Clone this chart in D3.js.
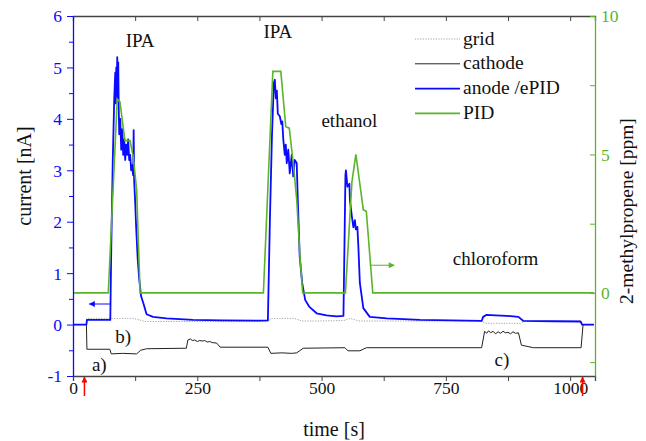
<!DOCTYPE html>
<html>
<head>
<meta charset="utf-8">
<script src="https://cdn.jsdelivr.net/npm/d3@7"></script>
<style>
  body { margin: 0; background: #fff; }
  text { font-family: "Liberation Serif", "Times New Roman", serif; }
</style>
</head>
<body>
<svg></svg>
<script>
const width = 646;
const height = 441;

// anode / ePID current [nA] over time [s]
const anode = [
  [0, 0], [27, 0], [28, 0.09], [75, 0.09], [77, 1.5], [80, 3.2], [83, 4.4], [85, 4.9],
  [86, 4.3], [87, 5.0], [88, 4.6], [89, 5.2], [90, 4.4], [91, 5.1], [92, 4.2], [93, 3.7],
  [95, 4.0], [97, 3.4], [99, 3.8], [101, 3.3], [103, 3.6], [105, 3.2], [107, 3.5], [109, 3.3],
  [111, 3.6], [113, 3.2], [115, 3.3], [117, 3.0], [119, 3.1], [121, 2.9], [122, 3.78], [123, 2.8],
  [125, 2.4], [127, 1.9], [130, 1.3], [133, 0.9], [137, 0.55], [142, 0.4], [148, 0.2], [161, 0.15],
  [188, 0.12], [241, 0.09], [300, 0.08], [375, 0.075], [392, 0.08],
  [396, 2.0], [400, 3.6], [404, 4.7], [406, 4.76], [408, 4.4], [410, 4.55], [412, 4.1], [416, 4.05],
  [419, 3.9], [421, 3.95], [423, 3.6], [426, 3.3], [428, 3.5], [430, 3.14], [433, 3.4], [436, 2.94],
  [440, 3.3], [443, 2.88], [446, 3.2], [450, 3.14], [452, 2.49], [456, 1.32], [461, 0.81],
  [467, 0.48], [475, 0.35], [490, 0.22], [510, 0.18], [530, 0.16], [544, 0.17],
  [546, 1.5], [548, 2.9], [549, 3.0], [552, 2.68], [556, 2.74], [557, 2.42], [561, 2.1],
  [564, 1.89], [567, 2.03], [569, 1.85], [572, 1.9], [574, 1.52], [577, 0.81], [584, 0.32],
  [597, 0.15], [631, 0.12], [698, 0.09], [760, 0.08], [822, 0.07],
  [825, 0.15], [832, 0.19], [850, 0.18], [872, 0.17], [896, 0.15], [906, 0.07],
  [966, 0.065], [1021, 0.06], [1024, 0], [1048, 0]
];

// cathode current [nA]
const cathode = [
  [0, 0], [27, 0], [28, -0.48], [74, -0.48], [77, -0.57], [100, -0.56], [128, -0.57],
  [136, -0.5], [148, -0.47], [228, -0.46], [231, -0.3], [236, -0.28], [240, -0.31], [245, -0.3],
  [250, -0.33], [255, -0.31], [260, -0.32], [265, -0.31], [270, -0.34], [275, -0.33],
  [280, -0.35], [289, -0.36], [296, -0.44], [392, -0.44], [398, -0.56], [420, -0.55],
  [440, -0.56], [450, -0.55], [463, -0.46], [547, -0.45], [553, -0.51], [577, -0.51],
  [590, -0.45], [822, -0.45], [828, -0.13], [832, -0.17], [836, -0.12], [840, -0.16],
  [845, -0.13], [850, -0.18], [855, -0.14], [860, -0.17], [865, -0.13], [870, -0.16],
  [875, -0.15], [880, -0.18], [885, -0.14], [890, -0.17], [896, -0.16], [902, -0.4],
  [926, -0.45], [1022, -0.45], [1026, 0], [1048, 0]
];

// grid current [nA]
const grid = [
  [0, 0], [27, 0], [28, 0.12], [120, 0.12], [130, 0.1], [145, 0.06], [390, 0.06], [400, 0.12],
  [445, 0.12], [460, 0.07], [500, 0.07], [545, 0.08], [558, 0.12], [575, 0.07], [820, 0.07],
  [830, 0.025], [900, 0.025], [910, 0.07], [1021, 0.07], [1024, 0], [1048, 0]
];

// PID signal, 2-methylpropene [ppm]
const pid = [
  [0, 0], [71, 0], [89, 7.0], [94.5, 6.9], [101, 5.97], [104.6, 5.5], [114.7, 5.5],
  [121, 4.93], [128, 3.73], [135, 0], [383, 0], [402, 8.0], [418, 8.0], [428, 6.0],
  [435, 5.95], [443, 4.7], [450, 3.37], [457, 1.2], [462, 0], [548, 0], [561, 4.0],
  [569, 5.0], [584, 3.0], [590, 2.95], [603, 0], [1048, 0]
];

const xTicks = [0, 250, 500, 750, 1000];
const yLeftTicks = [-1, 0, 1, 2, 3, 4, 5, 6];
const yRightTicks = [0, 5, 10];

const legendItems = ["grid", "cathode", "anode /ePID", "PID"];
const gasLabels = [
  { text: "IPA", t: 135, v: 5.4 },
  { text: "IPA", t: 412, v: 5.58 },
  { text: "ethanol", t: 556, v: 3.85 },
  { text: "chloroform", t: 850, v: 1.15 }
];
const panelLabels = [
  { text: "a)", t: 38, v: -0.9 },
  { text: "b)", t: 85, v: -0.35 },
  { text: "c)", t: 848, v: -0.8 }
];

const blue = "#0a0aff";
const green = "#5ab52a";
const axisGrey = "#444";

const margin = { left: 73, right: 51, top: 16, bottom: 65 };
const x = d3.scaleLinear().domain([0, 1050]).range([margin.left, width - margin.right]);
const yL = d3.scaleLinear().domain([-1, 6]).range([height - margin.bottom, margin.top]);
const yR = d3.scaleLinear().domain([-3, 10]).range([height - margin.bottom, margin.top]);

const svg = d3.select("svg").attr("width", width).attr("height", height);

const defs = svg.append("defs");
function marker(id, color) {
  defs.append("marker")
    .attr("id", id)
    .attr("viewBox", "0 0 10 10")
    .attr("refX", 9).attr("refY", 5)
    .attr("markerWidth", 9).attr("markerHeight", 6)
    .attr("markerUnits", "userSpaceOnUse")
    .attr("orient", "auto")
    .append("path").attr("d", "M0,0L10,5L0,10Z").attr("fill", color);
}
marker("ab", blue);
marker("ag", green);
marker("ar", "#f00");

// traces
const lineL = d3.line().x(d => x(d[0])).y(d => yL(d[1]));
const lineR = d3.line().x(d => x(d[0])).y(d => yR(d[1]));

svg.append("path").datum(grid).attr("d", lineL)
  .attr("fill", "none").attr("stroke", "#999").attr("stroke-width", 0.9)
  .attr("stroke-dasharray", "1.2,1.4");
svg.append("path").datum(cathode).attr("d", lineL)
  .attr("fill", "none").attr("stroke", "#222").attr("stroke-width", 1);
svg.append("path").datum(anode).attr("d", lineL)
  .attr("fill", "none").attr("stroke", blue).attr("stroke-width", 1.8)
  .attr("stroke-linejoin", "round");
svg.append("path").datum(pid).attr("d", lineR)
  .attr("fill", "none").attr("stroke", green).attr("stroke-width", 1.6);

// axes
const bottomAxis = svg.append("g").attr("transform", `translate(0,${yL.range()[0]})`)
  .call(d3.axisBottom(x).tickValues(d3.range(0, 1051, 125)).tickSize(5).tickFormat(""));
bottomAxis.select(".domain").attr("stroke", axisGrey).attr("stroke-width", 1.3);
bottomAxis.selectAll(".tick line").attr("stroke", axisGrey);
bottomAxis.selectAll(".tick")
  .filter(d => xTicks.includes(d))
  .append("text")
  .attr("y", 18).attr("fill", "#111").attr("text-anchor", "middle")
  .style("font-size", "17.5px")
  .text(d => d);

const topAxis = svg.append("g").attr("transform", `translate(0,${yL.range()[1]})`)
  .call(d3.axisBottom(x).tickValues(d3.range(0, 1051, 125)).tickSize(5).tickFormat(""));
topAxis.select(".domain").attr("stroke", axisGrey).attr("stroke-width", 1.3);
topAxis.selectAll(".tick line").attr("stroke", axisGrey);

const leftAxis = svg.append("g").attr("transform", `translate(${margin.left},0)`)
  .call(d3.axisLeft(yL).tickValues(d3.range(-1, 6.01, 0.5)).tickSizeInner(6).tickSizeOuter(0).tickFormat(""));
leftAxis.select(".domain").attr("stroke", blue).attr("stroke-width", 1.3);
leftAxis.selectAll(".tick line").attr("stroke", blue)
  .attr("x2", d => Number.isInteger(d) ? -6 : -4);
leftAxis.selectAll(".tick")
  .filter(d => yLeftTicks.includes(d))
  .append("text")
  .attr("x", -11).attr("dy", "0.34em").attr("fill", blue).attr("text-anchor", "end")
  .style("font-size", "17.5px")
  .text(d => d);

const rightAxis = svg.append("g").attr("transform", `translate(${width - margin.right},0)`)
  .call(d3.axisLeft(yR).tickValues(d3.range(-2.5, 10.01, 2.5)).tickSizeInner(5).tickSizeOuter(0).tickFormat(""));
rightAxis.select(".domain").attr("stroke", green).attr("stroke-width", 1.3);
rightAxis.selectAll(".tick line").attr("stroke", green);
rightAxis.selectAll(".tick")
  .filter(d => yRightTicks.includes(d))
  .append("text")
  .attr("x", 6).attr("dy", "0.34em").attr("fill", green).attr("text-anchor", "start")
  .style("font-size", "17.5px")
  .text(d => d);

// axis titles
svg.append("text")
  .attr("transform", `translate(31,${(margin.top + yL.range()[0]) / 2 - 20}) rotate(-90)`)
  .attr("text-anchor", "middle").attr("fill", "#111").style("font-size", "20px")
  .text("current [nA]");
svg.append("text")
  .attr("transform", `translate(633,${(margin.top + yL.range()[0]) / 2 + 15}) rotate(-90)`)
  .attr("text-anchor", "middle").attr("fill", "#111").style("font-size", "19.5px")
  .text("2-methylpropene [ppm]");
svg.append("text")
  .attr("x", x(525)).attr("y", 436)
  .attr("text-anchor", "middle").attr("fill", "#111").style("font-size", "20px")
  .text("time [s]");

// gas and panel labels
svg.selectAll(".gas").data(gasLabels).enter().append("text")
  .attr("class", "gas")
  .attr("x", d => x(d.t)).attr("y", d => yL(d.v))
  .attr("text-anchor", "middle").attr("fill", "#111").style("font-size", "19px")
  .text(d => d.text);
svg.selectAll(".panel").data(panelLabels).enter().append("text")
  .attr("class", "panel")
  .attr("x", d => x(d.t)).attr("y", d => yL(d.v))
  .attr("text-anchor", "start").attr("fill", "#111").style("font-size", "19px")
  .text(d => d.text);

// legend
const legendColors = ["#999", "#222", blue, green];
const legendWidths = [0.9, 1, 1.8, 1.6];
const legend = svg.append("g").attr("transform", "translate(415,39)");
legendItems.forEach((name, i) => {
  const row = legend.append("g").attr("transform", `translate(0,${i * 24.8})`);
  row.append("line").attr("x1", 0).attr("x2", 45)
    .attr("stroke", legendColors[i]).attr("stroke-width", legendWidths[i])
    .attr("stroke-dasharray", i === 0 ? "1.2,1.4" : null);
  row.append("text").attr("x", 48).attr("y", 5.5)
    .attr("fill", "#111").style("font-size", "19.5px").text(name);
});

// axis arrows
svg.append("line")
  .attr("x1", x(75)).attr("x2", x(33)).attr("y1", yL(0.4)).attr("y2", yL(0.4))
  .attr("stroke", blue).attr("stroke-width", 1).attr("marker-end", "url(#ab)");
svg.append("line")
  .attr("x1", x(597)).attr("x2", x(646)).attr("y1", yR(1)).attr("y2", yR(1))
  .attr("stroke", green).attr("stroke-width", 1).attr("marker-end", "url(#ag)");

// start / end markers
[23, 1025].forEach(t => {
  svg.append("line")
    .attr("x1", x(t)).attr("x2", x(t)).attr("y1", 396).attr("y2", 377)
    .attr("stroke", "#f00").attr("stroke-width", 1.5).attr("marker-end", "url(#ar)");
});
</script>
</body>
</html>
